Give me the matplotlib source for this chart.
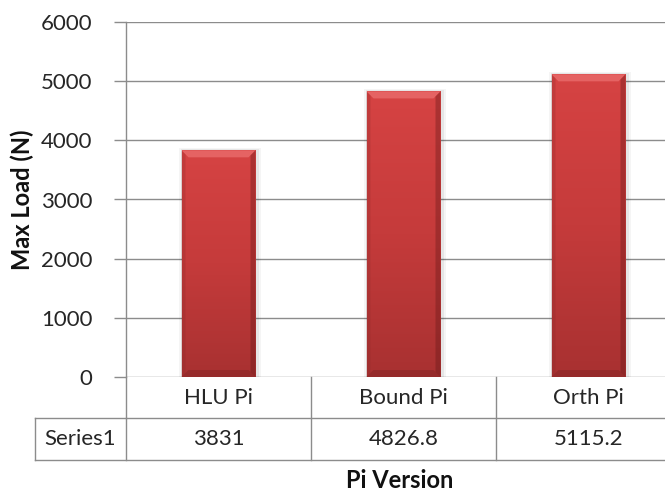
import numpy as np
import matplotlib.pyplot as plt
from matplotlib.colors import LinearSegmentedColormap
from matplotlib.patches import Polygon

plt.rcParams['font.family'] = ['Lato', 'DejaVu Sans']

# data
categories = ['HLU Pi', 'Bound Pi', 'Orth Pi']
series_name = 'Series1'
values = [3831, 4826.8, 5115.2]
value_labels = ['3831', '4826.8', '5115.2']
yticks = [0, 1000, 2000, 3000, 4000, 5000, 6000]

W, H = 665, 491
fig = plt.figure(figsize=(W/100, H/100), dpi=100)
# plot area runs past the right edge (cropped original)
ax = fig.add_axes([126/W, (H-377)/H, 555/W, 355/H])

x = np.arange(len(categories))
bw = 0.4
fs = 16
txt_c = '#262626'

grid_c = '#8c8c8c'
for t in yticks:
    ax.axhline(t, color=grid_c, lw=1, zorder=1)
for s in ['top', 'right', 'bottom']:
    ax.spines[s].set_visible(False)
ax.spines['left'].set_color(grid_c)
ax.spines['left'].set_linewidth(1)
ax.set_yticks(yticks)
ax.set_yticklabels([str(t) for t in yticks], fontsize=fs, color=txt_c)
ax.tick_params(axis='y', length=9, width=1, color=grid_c, pad=15)
ax.set_xticks([])

# bars with gradient + bevel
cmap = LinearSegmentedColormap.from_list('redgrad', ['#a83131', '#c53b3b', '#d64343'])
bars = ax.bar(x, values, width=bw, color='none', zorder=3)
upp = 6000/355  # data units per pixel (y)
xpp = 1/185     # data units per pixel (x)
for b, v in zip(bars, values):
    x0 = b.get_x()
    x1 = x0 + b.get_width()
    # soft shadow
    for k, a in [(4, 0.04), (2, 0.06)]:
        ax.bar(b.get_x() + bw/2 + 1*xpp, v + k*upp*0.5, width=bw + 2*k*xpp,
               color='#000000', alpha=a, lw=0, zorder=2)
    grad = np.linspace(0, 1, 256).reshape(-1, 1)
    im = ax.imshow(grad, cmap=cmap, aspect='auto', origin='lower',
                   extent=[x0, x1, 0, v], zorder=3)
    im.set_clip_path(b)
    bev = 7
    top = Polygon([[x0, v], [x1, v], [x1 - bev*xpp, v - bev*upp], [x0 + bev*xpp, v - bev*upp]],
                  closed=True, color='#f07a7a', alpha=0.6, lw=0, zorder=4)
    ax.add_patch(top)
    right = Polygon([[x1, v], [x1, 0], [x1 - 5*xpp, 5*upp], [x1 - 5*xpp, v - 5*upp]],
                    closed=True, color='#5e1515', alpha=0.35, lw=0, zorder=4)
    ax.add_patch(right)
    left = Polygon([[x0, v], [x0, 0], [x0 + 4*xpp, 4*upp], [x0 + 4*xpp, v - 4*upp]],
                   closed=True, color='#8a2a2a', alpha=0.25, lw=0, zorder=4)
    ax.add_patch(left)
    bottom = Polygon([[x0, 0], [x1, 0], [x1 - 7*xpp, 7*upp], [x0 + 7*xpp, 7*upp]],
                     closed=True, color='#6e1e1e', alpha=0.3, lw=0, zorder=4)
    ax.add_patch(bottom)
ax.set_xlim(-0.5, 2.5)
ax.set_ylim(0, 6000)

# data table below the axis
row1 = -41*upp
row2 = -83*upp
tbl_left = -0.5 - 91*xpp
kw = dict(color=grid_c, lw=1, clip_on=False, zorder=5)
ax.plot([-0.5, 2.5], [row1, row1], **kw)
ax.plot([tbl_left, -0.5], [row1, row1], **kw)
ax.plot([tbl_left, 2.5], [row2, row2], **kw)
ax.plot([tbl_left, tbl_left], [row1, row2], **kw)
for xb in [-0.5, 0.5, 1.5, 2.5]:
    ax.plot([xb, xb], [0, row2], **kw)
for xi, c, lab in zip(x, categories, value_labels):
    ax.text(xi, row1/2, c, ha='center', va='center', fontsize=fs, color=txt_c, clip_on=False)
    ax.text(xi, (row1 + row2)/2, lab, ha='center', va='center', fontsize=fs, color=txt_c, clip_on=False)
ax.text((tbl_left - 0.5)/2, (row1 + row2)/2, series_name, ha='center', va='center',
        fontsize=fs, color=txt_c, clip_on=False)

fig.text(400/W, 1 - 480/H, 'Pi Version', ha='center', va='center', fontsize=17, fontweight='bold', color='#111111')
fig.text(22/W, 1 - 200/H, 'Max Load (N)', ha='center', va='center', rotation=90,
         fontsize=17, fontweight='bold', color='#111111')

fig.savefig('out.png', dpi=100)
